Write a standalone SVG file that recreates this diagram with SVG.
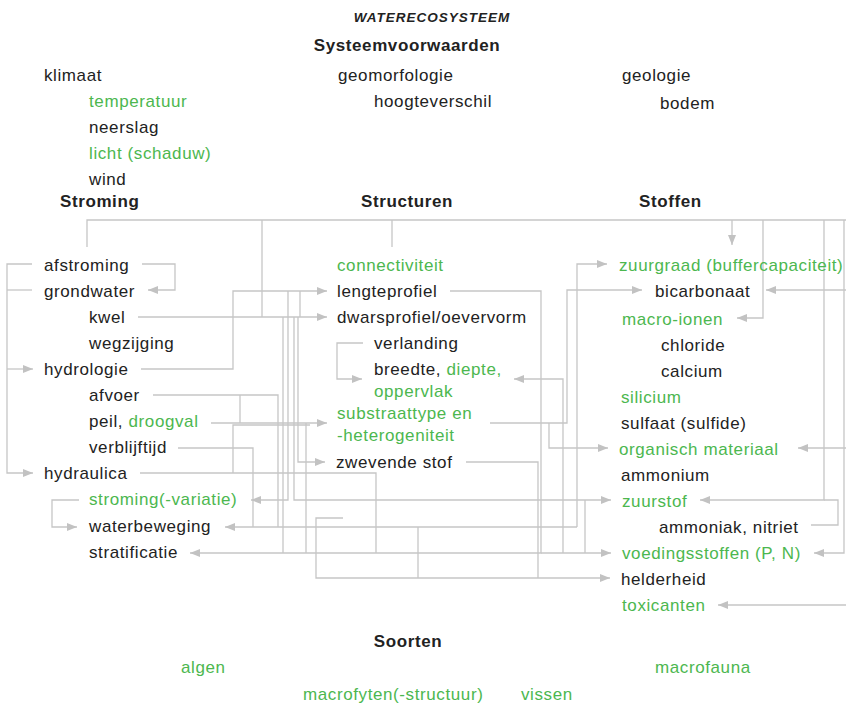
<svg xmlns="http://www.w3.org/2000/svg" width="846" height="706" viewBox="0 0 846 706">
  <style>
    text { font-family: "Liberation Sans", Arial, sans-serif; font-size: 17px; letter-spacing: 0.6px; fill: #222; }
    .g { fill: #4cb74f; }
    .b { font-weight: bold; }
    .title { font-weight: bold; font-style: italic; font-size: 13.5px; letter-spacing: 1px; }
    .c path { fill: none; stroke: #c6c6c6; stroke-width: 1.3; }
    .c path.a { marker-end: url(#arr); }
  </style>
  <defs>
    <marker id="arr" markerUnits="userSpaceOnUse" markerWidth="10" markerHeight="8" viewBox="0 0 10 8" refX="10" refY="4" orient="auto">
      <path d="M0,0 L10,4 L0,8 z" fill="#c2c2c2"/>
    </marker>
  </defs>
  <rect width="846" height="706" fill="#fff"/>

  <!-- connectors -->
  <g id="connectors" class="c">
    <!-- top bus -->
    <path d="M87,247 V220 H846"/>
    <path d="M392,247 V220"/>
    <path d="M262,220 V317"/>
    <path class="a" d="M732,220 V245"/>
    <path class="a" d="M763,220 V318 H737"/>
    <path class="a" d="M824,220 V500 H700"/>
    <path class="a" d="M844,220 V553 H814"/>
    <!-- stroming -->
    <path class="a" d="M32,264 H7 V473 H33"/>
    <path d="M32,290 H7"/>
    <path class="a" d="M7,369 H33"/>
    <path class="a" d="M142,264 H175 V290 H148"/>
    <path class="a" d="M138,317 H327"/>
    <path class="a" d="M141,369 H233 V291 H327"/>
    <path d="M153,395 H278 V527"/>
    <path d="M240,395 V423"/>
    <path class="a" d="M211,423 H327"/>
    <path d="M140,473 H376 V553"/>
    <path d="M233,473 V425 H310"/>
    <path d="M178,448 H253 V527"/>
    <path class="a" d="M79,500 H52 V527 H77"/>
    <path class="a" d="M288,291 V500 H251"/>
    <path class="a" d="M577,527 H225"/>
    <path class="a" d="M577,527 V264 H607"/>
    <path class="a" d="M450,291 H541 V553 H190"/>
    <path class="a" d="M541,553 H611"/>
    <path class="a" d="M294,317 V500 H611"/>
    <path d="M283,317 V553"/>
    <path class="a" d="M298,317 V462 H325"/>
    <path d="M300,291 V317"/>
    <path d="M306,423 V553"/>
    <!-- structuren -->
    <path class="a" d="M343,518 H316 V578 H610"/>
    <path d="M418,527 V578"/>
    <path d="M466,462 H538 V578"/>
    <path class="a" d="M490,423 H567 V290 H642"/>
    <path class="a" d="M549,423 V448 H608"/>
    <path class="a" d="M563,553 V379 H514"/>
    <path d="M585,500 V553"/>
    <path class="a" d="M363,343 H337 V379 H362"/>
    <!-- stoffen -->
    <path class="a" d="M846,290 H766"/>
    <path class="a" d="M846,448 H798"/>
    <path d="M811,525 H838 V500 H824"/>
    <path class="a" d="M846,605 H718"/>
  </g>

  <!-- headings -->
  <g id="title"><text class="title" x="432" y="22" text-anchor="middle">WATERECOSYSTEEM</text></g>
  <g id="systeemvoorwaarden"><text class="b" x="407" y="51" text-anchor="middle">Systeemvoorwaarden</text></g>

  <!-- systeemvoorwaarden -->
  <g id="klimaat"><text x="44" y="81">klimaat</text></g>
  <g id="temperatuur"><text class="g" x="89" y="107">temperatuur</text></g>
  <g id="neerslag"><text x="89" y="133">neerslag</text></g>
  <g id="licht"><text class="g" x="89" y="159">licht (schaduw)</text></g>
  <g id="wind"><text x="89" y="185">wind</text></g>
  <g id="geomorfologie"><text x="338" y="81">geomorfologie</text></g>
  <g id="hoogteverschil"><text x="374" y="107">hoogteverschil</text></g>
  <g id="geologie"><text x="622" y="81">geologie</text></g>
  <g id="bodem"><text x="660" y="109">bodem</text></g>

  <!-- stroming -->
  <g id="stroming"><text class="b" x="60" y="207">Stroming</text></g>
  <g id="afstroming"><text x="44" y="271">afstroming</text></g>
  <g id="grondwater"><text x="44" y="297">grondwater</text></g>
  <g id="kwel"><text x="89" y="323">kwel</text></g>
  <g id="wegzijging"><text x="89" y="349">wegzijging</text></g>
  <g id="hydrologie"><text x="44" y="375">hydrologie</text></g>
  <g id="afvoer"><text x="89" y="401">afvoer</text></g>
  <g id="peil"><text x="89" y="427">peil, <tspan class="g">droogval</tspan></text></g>
  <g id="verblijftijd"><text x="89" y="453">verblijftijd</text></g>
  <g id="hydraulica"><text x="44" y="479">hydraulica</text></g>
  <g id="stromingvariatie"><text class="g" x="89" y="505">stroming(-variatie)</text></g>
  <g id="waterbeweging"><text x="89" y="532">waterbeweging</text></g>
  <g id="stratificatie"><text x="89" y="558">stratificatie</text></g>

  <!-- structuren -->
  <g id="structuren"><text class="b" x="361" y="207">Structuren</text></g>
  <g id="connectiviteit"><text class="g" x="337" y="271">connectiviteit</text></g>
  <g id="lengteprofiel"><text x="337" y="297">lengteprofiel</text></g>
  <g id="dwarsprofiel"><text x="337" y="323">dwarsprofiel/oevervorm</text></g>
  <g id="verlanding"><text x="374" y="349">verlanding</text></g>
  <g id="breedte"><text x="374" y="375">breedte, <tspan class="g">diepte,</tspan></text><text class="g" x="374" y="397">oppervlak</text></g>
  <g id="substraattype"><text class="g" x="337" y="419">substraattype en</text><text class="g" x="337" y="441">-heterogeniteit</text></g>
  <g id="zwevendestof"><text x="336" y="468">zwevende stof</text></g>

  <!-- stoffen -->
  <g id="stoffen"><text class="b" x="639" y="207">Stoffen</text></g>
  <g id="zuurgraad"><text class="g" x="619" y="271">zuurgraad (buffercapaciteit)</text></g>
  <g id="bicarbonaat"><text x="655" y="297">bicarbonaat</text></g>
  <g id="macroionen"><text class="g" x="622" y="325">macro-ionen</text></g>
  <g id="chloride"><text x="661" y="351">chloride</text></g>
  <g id="calcium"><text x="661" y="377">calcium</text></g>
  <g id="silicium"><text class="g" x="621" y="403">silicium</text></g>
  <g id="sulfaat"><text x="621" y="429">sulfaat (sulfide)</text></g>
  <g id="organisch"><text class="g" x="619" y="455">organisch materiaal</text></g>
  <g id="ammonium"><text x="621" y="481">ammonium</text></g>
  <g id="zuurstof"><text class="g" x="622" y="507">zuurstof</text></g>
  <g id="ammoniak"><text x="659" y="533">ammoniak, nitriet</text></g>
  <g id="voedingsstoffen"><text class="g" x="622" y="559">voedingsstoffen (P, N)</text></g>
  <g id="helderheid"><text x="621" y="585">helderheid</text></g>
  <g id="toxicanten"><text class="g" x="622" y="611">toxicanten</text></g>

  <!-- soorten -->
  <g id="soorten"><text class="b" x="408" y="647" text-anchor="middle">Soorten</text></g>
  <g id="algen"><text class="g" x="181" y="673">algen</text></g>
  <g id="macrofauna"><text class="g" x="655" y="673">macrofauna</text></g>
  <g id="macrofyten"><text class="g" x="303" y="700">macrofyten(-structuur)</text></g>
  <g id="vissen"><text class="g" x="521" y="700">vissen</text></g>
</svg>
